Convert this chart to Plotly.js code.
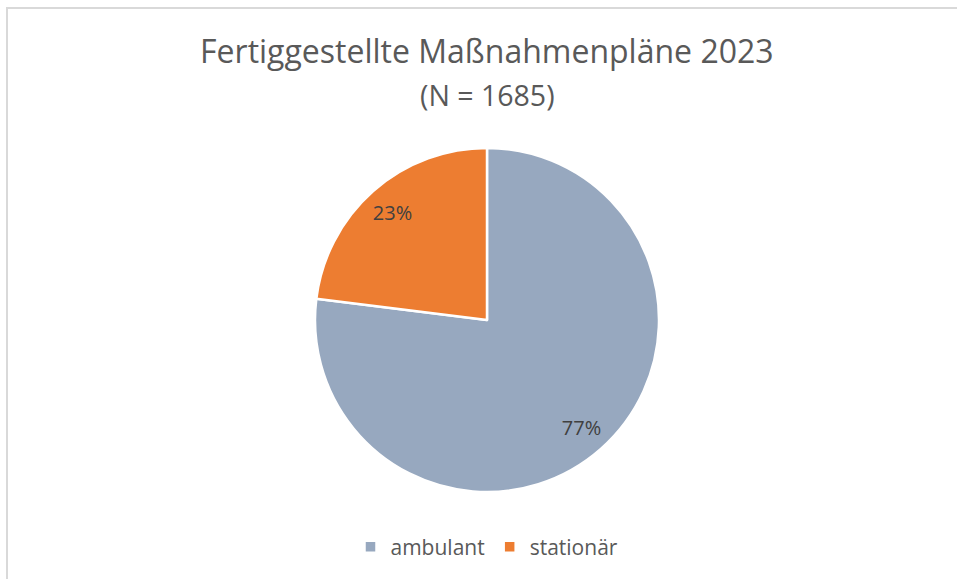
<!DOCTYPE html>
<html>
<head>
<meta charset="utf-8">
<script src="https://cdn.plot.ly/plotly-3.0.1.min.js"></script>
<style>
  html, body { margin: 0; padding: 0; background: #ffffff; }
  #frame { position: absolute; left: 6px; top: 7px; width: 1000px; height: 1000px; border: 2px solid #d9d9d9; box-sizing: border-box; }
  #chart { position: absolute; left: 0; top: 0; width: 957px; height: 579px; }
</style>
</head>
<body>
<div id="frame"></div>
<div id="chart"></div>
<script>
const categories = ["ambulant", "stationär"];
const counts = [1297, 388];
const colors = ["#97A8BF", "#ED7D31"];
const titleText = "Fertiggestellte Maßnahmenpläne 2023";
const subtitleText = "(N = 1685)";

const FONT = "Open Sans, Lato, sans-serif";

const base = {
  type: "pie",
  labels: categories,
  values: counts,
  sort: false,
  direction: "clockwise",
  rotation: 0,
  hoverinfo: "none"
};

const data = [
  Object.assign({}, base, {
    marker: { colors: colors, line: { color: "#ffffff", width: 2.5 } },
    textinfo: "none",
    showlegend: true
  }),
  // transparent ring used only to place the percentage labels further out
  Object.assign({}, base, {
    hole: 0.66,
    marker: { colors: ["rgba(0,0,0,0)", "rgba(0,0,0,0)"], line: { width: 0 } },
    texttemplate: "%{percent:.0%}",
    textposition: "inside",
    insidetextorientation: "horizontal",
    textfont: { family: FONT, size: 20, color: "#404040" },
    showlegend: false
  })
];

const layout = {
  width: 957,
  height: 579,
  margin: { l: 17, r: 0, t: 148, b: 87 },
  paper_bgcolor: "rgba(0,0,0,0)",
  plot_bgcolor: "rgba(0,0,0,0)",
  showlegend: true,
  title: {
    text: titleText,
    font: { family: FONT, size: 32, color: "#595959" },
    x: 0.5087, xref: "container", xanchor: "center",
    y: 1 - 52 / 579, yref: "container", yanchor: "middle"
  },
  annotations: [{
    text: subtitleText,
    xref: "paper", yref: "paper",
    x: 0.5, y: 1 + (148 - 95) / 344,
    xanchor: "center", yanchor: "middle",
    showarrow: false,
    font: { family: FONT, size: 28.5, color: "#595959" }
  }],
  legend: {
    orientation: "h",
    x: 0.5, xanchor: "center",
    y: -(547 - 492) / 344, yanchor: "middle",
    font: { family: FONT, size: 21, color: "#595959" },
    itemclick: false,
    itemdoubleclick: false
  }
};

Plotly.newPlot("chart", data, layout, { displayModeBar: false, staticPlot: true });
</script>
</body>
</html>
